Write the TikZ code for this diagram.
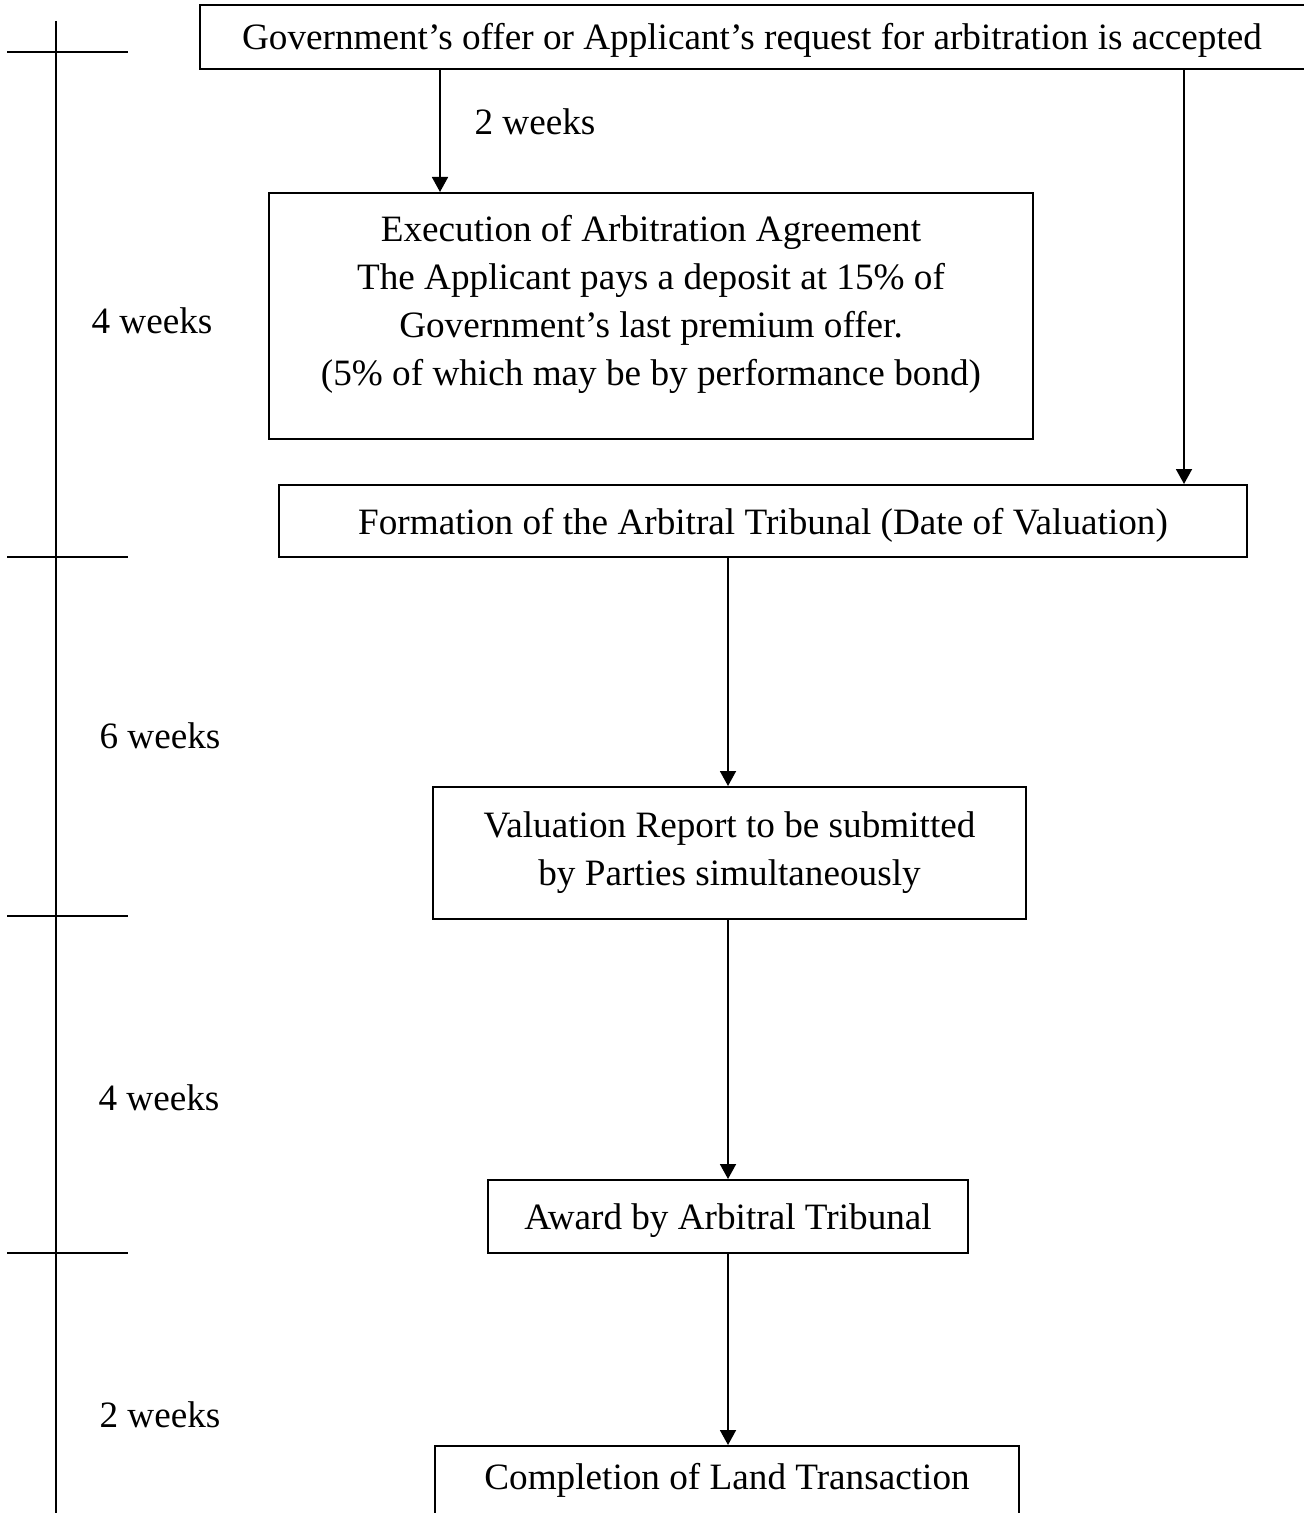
\documentclass[tikz,border=0pt]{standalone}
\usepackage{fontspec}
\setmainfont{Liberation Serif}
\usetikzlibrary{arrows.meta}

\begin{document}
\begin{tikzpicture}[x=0.5pt,y=-0.5pt,
    box/.style={draw, line width=1pt, inner sep=0pt},
    line/.style={text height=13.5pt, text depth=0.5pt},
    arr/.style={-{Triangle[width=8pt,length=7.5pt]}, line width=0.9pt},
    lbl/.style={inner sep=0pt},
    font=\fontsize{18.6}{24}\selectfont]
    \useasboundingbox (0,0) rectangle (1303,1513);
    % time line
    \draw[line width=1pt] (56,21) -- (56,1520);
    \foreach \y in {52,557,916,1253}
      \draw[line width=1pt] (7,\y) -- (128,\y);
    \node[lbl] (wka) at (152,321) {4 weeks};
    \node[lbl] (wkb) at (160,736) {6 weeks};
    \node[lbl] (wkc) at (159,1098) {4 weeks};
    \node[lbl] (wkd) at (160,1415) {2 weeks};
    % steps
    \node[box, minimum width=570pt, minimum height=32pt] (offer) at (770,37) {};
    \node[lbl] (offertext) at (752,40)
      {Government's offer or Applicant's request for arbitration is accepted};
    \node[box, minimum width=382pt, minimum height=123pt] (exec) at (651,316) {};
    \node[lbl, align=center] (exectext) at (651,304)
      {Execution of Arbitration Agreement\\
       The Applicant pays a deposit at 15\% of\\
       Government's last premium offer.\\
       (5\% of which may be by performance bond)};
    \node[box, line, minimum width=484pt, minimum height=36pt] (form) at (763,521)
      {Formation of the Arbitral Tribunal (Date of Valuation)};
    \node[box, minimum width=296.5pt, minimum height=66pt, align=center] (val) at (729.5,853)
      {Valuation Report to be submitted\\ by Parties simultaneously};
    \node[box, line, minimum width=240pt, minimum height=36.5pt] (award) at (728,1216.5)
      {Award by Arbitral Tribunal};
    \node[box, minimum width=292pt, minimum height=42pt] (compl) at (727,1488) {};
    \node[lbl] (compltext) at (727,1480) {Completion of Land Transaction};
    % arrows
    \coordinate (gx) at (440,0);
    \coordinate (fx) at (1184,0);
    \draw[arr] (gx |- offer.south) -- (gx |- exec.north);
    \node[lbl] (wktop) at (535,122) {2 weeks};
    \draw[arr] (fx |- offer.south) -- (fx |- form.north);
    \draw[arr] (award.north |- form.south) -- (award.north |- val.north);
    \draw[arr] (award.north |- val.south) -- (award.north);
    \draw[arr] (award.south) -- (award.south |- compl.north);
\end{tikzpicture}
\end{document}
